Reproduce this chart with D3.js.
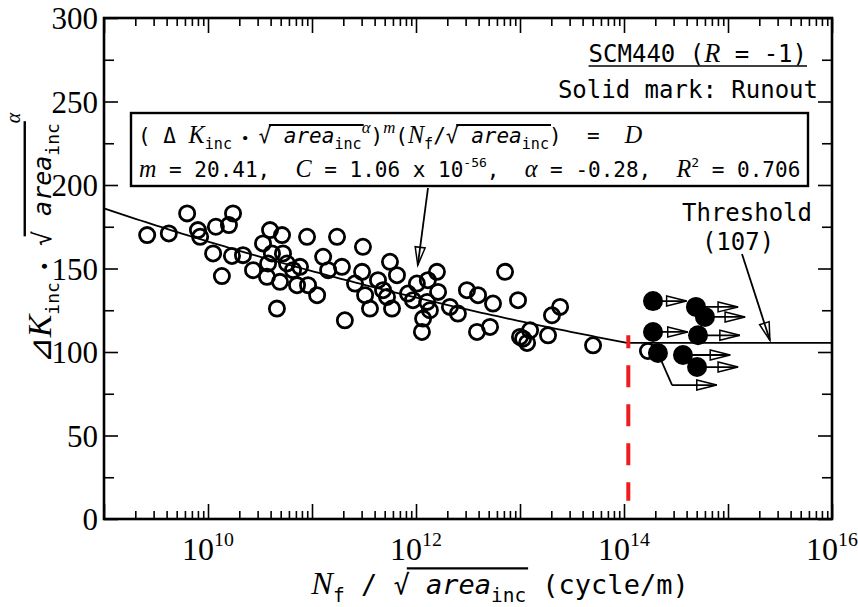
<!DOCTYPE html>
<html><head><meta charset="utf-8">
<script src="https://cdn.jsdelivr.net/npm/d3@7"></script>
<style>body{margin:0;background:#fff}</style>
</head><body><svg id="c" width="858" height="607"></svg>
<script>
// ---------- data ----------
const yTickValues = [0, 50, 100, 150, 200, 250, 300];
const xLabelExps = [10, 12, 14, 16];
const xDecadeExps = [9, 10, 11, 12, 13, 14, 15, 16];
// failures (open marks): N_f/sqrt(area) and dK*sqrt(area)^alpha
const failN = [2.6e9,4.2e9,6.3e9,8.0e9,8.4e9,1.19e10,1.74e10,1.59e10,1.12e10,1.70e10,2.17e10,1.36e10,2.71e10,3.38e10,3.95e10,5.15e10,4.12e10,5.26e10,3.69e10,4.92e10,7.18e10,6.57e10,9.16e10,1.12e11,8.96e10,1.28e11,1.43e11,1.74e11,1.94e11,4.60e10,2.07e11,3.09e11,3.03e11,5.62e11,6.56e11,4.31e11,3.24e11,5.26e11,3.61e11,5.88e11,8.38e11,1.02e12,1.30e12,1.59e12,1.63e12,1.28e12,1.36e12,1.17e12,1.14e12,2.12e12,2.53e12,3.09e12,3.95e12,5.50e12,5.15e12,3.86e12,7.18e12,9.57e12,2.03e13,2.43e13,1.0e13,1.25e13,1.17e13,1.86e13,5.04e13,1.07e13,3.78e10,7.67e10,5.75e10,2.59e11,4.82e11,9.35e11,1.70e14];
const failK = [170,171,183,173,169,175,183,176,159,157.5,158,145.5,149,165,173,170,159,159,145,142,140,149,140,134,169,157,149,169,151,126,119,163,148,154,146,143,134,133,126,126,135,141,143,148,136,130,125,120,112,127,123,137,134,129,115,112,148,131,122,127,109,113,105.4,110,104,108,153,151,153,141,137,131,100.6];
// runouts (solid marks)
const runN = [1.9e14,4.92e14,6.0e14,1.9e14,5.15e14,3.69e14,5.04e14,2.12e14];
const runK = [130.5,127,121,112,110,98.2,91,99.4];
const runTipN = [4.0e14,1.25e15,1.46e15,4.1e14,1.3e15,1.05e15,1.25e15,7.8e14];
const runBendK = [null,null,null,null,null,null,null,80.2];
const runBendN = [null,null,null,null,null,null,null,2.9e14];
// fit
const fitM = 20.41, fitN0 = 1e9, fitK0 = 186;
const thresholdK = 105.5;
const kneeN = 1.1e14;

// ---------- setup ----------
const svg = d3.select('#c');
const X0 = 104, X1 = 832, Y0 = 519, Y1 = 18;
const x = d3.scaleLog().domain([1e9, 1e16]).range([X0, X1]);
const y = d3.scaleLinear().domain([0, 300]).range([Y0, Y1]);
const MONO = "'DejaVu Sans Mono', monospace";
const SERIF = "'Liberation Serif', 'Times New Roman', serif";

// ---------- rich text helper ----------
function rich(parent, px, py, parts, opts) {
  const outer = parent.append('g');
  const g = outer.append('g');
  const base = opts.size;
  let cx = 0;
  const overs = [];
  let cur = null;
  parts.forEach(p => {
    const size = base * (p.s || 1);
    const t = g.append('text').attr('x', cx).attr('y', (p.dy || 0) * base)
      .attr('font-family', p.f || opts.font).attr('font-size', size)
      .attr('font-style', p.i ? 'italic' : 'normal')
      .attr('fill', '#000').style('white-space', 'pre').text(p.t);
    const w = t.node().getComputedTextLength();
    if (p.sq) { cur = {x0: cx + w * 0.82, x1: cx + w}; overs.push(cur); }
    else if (p.o && cur) { cur.x1 = cx + w; }
    else if (!p.o) { cur = null; }
    cx += w + (p.gap || 0) * base;
  });
  overs.forEach(o => {
    g.append('line').attr('x1', o.x0).attr('x2', o.x1 + 2)
      .attr('y1', -(opts.ov || 0.86) * base).attr('y2', -(opts.ov || 0.86) * base)
      .attr('stroke', '#000').attr('stroke-width', opts.ow || 2);
  });
  const shift = opts.anchor === 'middle' ? -cx / 2 : opts.anchor === 'end' ? -cx : 0;
  g.attr('transform', `translate(${shift},0)`);
  outer.attr('transform', `translate(${px},${py})` + (opts.rotate ? ` rotate(${opts.rotate})` : ''));
  return cx;
}

// ---------- axes ----------
const minorX = [];
for (let e = 9; e < 16; e++) for (let k = 2; k <= 9; k++) minorX.push(k * Math.pow(10, e));
const minorY = d3.range(25, 300, 50);

function strip(sel) { sel.select('.domain').remove(); sel.selectAll('line').attr('stroke', '#000').attr('stroke-width', 1.6); }

// bottom
const gb = svg.append('g').attr('transform', `translate(0,${Y0})`);
gb.append('g').call(d3.axisBottom(x).tickValues(minorX).tickSize(-8).tickFormat('')).call(strip);
gb.append('g').call(d3.axisBottom(x).tickValues(xDecadeExps.map(e => Math.pow(10, e))).tickSize(-15).tickFormat('')).call(strip);
// top
const gt = svg.append('g').attr('transform', `translate(0,${Y1})`);
gt.append('g').call(d3.axisTop(x).tickValues(minorX).tickSize(-8).tickFormat('')).call(strip);
gt.append('g').call(d3.axisTop(x).tickValues(xDecadeExps.map(e => Math.pow(10, e))).tickSize(-15).tickFormat('')).call(strip);
// left
const gl = svg.append('g').attr('transform', `translate(${X0},0)`);
gl.append('g').call(d3.axisLeft(y).tickValues(minorY).tickSize(-10).tickFormat('')).call(strip);
const glMaj = gl.append('g').call(d3.axisLeft(y).tickValues(yTickValues).tickSize(-14).tickPadding(6).tickFormat(d3.format('d'))).call(strip);
glMaj.selectAll('text').attr('font-family', SERIF).attr('font-size', 31).attr('fill', '#000').attr('dy', '0.34em');
// right
const gr = svg.append('g').attr('transform', `translate(${X1},0)`);
gr.append('g').call(d3.axisRight(y).tickValues(minorY).tickSize(-10).tickFormat('')).call(strip);
gr.append('g').call(d3.axisRight(y).tickValues(yTickValues).tickSize(-14).tickFormat('')).call(strip);

// x labels 10^n
xLabelExps.forEach(e => {
  rich(svg, x(Math.pow(10, e)), 560, [
    {t: '10', f: SERIF},
    {t: String(e), f: SERIF, s: 0.62, dy: -0.45}
  ], {size: 32, font: SERIF, anchor: 'middle'});
});

// frame
svg.append('rect').attr('x', X0).attr('y', Y1).attr('width', X1 - X0).attr('height', Y0 - Y1)
  .attr('fill', 'none').attr('stroke', '#000').attr('stroke-width', 2.6);

// ---------- fit line ----------
const fitPts = d3.range(0, 101).map(i => {
  const n = Math.pow(10, Math.log10(fitN0) + i / 100 * (Math.log10(kneeN) - Math.log10(fitN0)));
  return [n, fitK0 * Math.pow(n / fitN0, -1 / fitM)];
});
const line = d3.line().x(d => x(d[0])).y(d => y(d[1]));
svg.append('path').attr('d', line(fitPts)).attr('fill', 'none').attr('stroke', '#000').attr('stroke-width', 1.8);
svg.append('path').attr('d', line([[fitPts[100][0], thresholdK], [1e16, thresholdK]]))
  .attr('fill', 'none').attr('stroke', '#000').attr('stroke-width', 1.8);
// red dashed
svg.append('line').attr('x1', x(kneeN)).attr('x2', x(kneeN)).attr('y1', y(110)).attr('y2', y(11))
  .attr('stroke', '#ee1c1c').attr('stroke-width', 4).attr('stroke-dasharray', '22,17').attr('stroke-dashoffset', 9);

// ---------- arrows ----------
function arrow(x1, y1, x2, y2, len, hw) {
  const a = Math.atan2(y2 - y1, x2 - x1);
  const bx = x2 - len * Math.cos(a), by = y2 - len * Math.sin(a);
  const px = -Math.sin(a) * hw, py = Math.cos(a) * hw;
  svg.append('line').attr('x1', x1).attr('y1', y1).attr('x2', x2).attr('y2', y2)
    .attr('stroke', '#000').attr('stroke-width', 1.8);
  svg.append('path').attr('d', `M${x2},${y2}L${bx + px},${by + py}L${bx - px},${by - py}Z`)
    .attr('fill', 'none').attr('stroke', '#000').attr('stroke-width', 1.5);
}

// ---------- points ----------
svg.append('g').selectAll('circle').data(failN.map((n, i) => [n, failK[i]])).join('circle')
  .attr('cx', d => x(d[0])).attr('cy', d => y(d[1])).attr('r', 7.6)
  .attr('fill', 'none').attr('stroke', '#000').attr('stroke-width', 2.8);

runN.forEach((n, i) => {
  const cx = x(n), cy = y(runK[i]);
  if (runBendN[i]) {
    svg.append('path').attr('d', `M${cx},${cy}L${x(runBendN[i])},${y(runBendK[i])}`)
      .attr('stroke', '#000').attr('stroke-width', 1.8).attr('fill', 'none');
    arrow(x(runBendN[i]), y(runBendK[i]), x(runTipN[i]), y(runBendK[i]), 20, 5);
  } else {
    arrow(cx, cy, x(runTipN[i]), cy, 20, 5);
  }
});
svg.append('g').selectAll('circle').data(runN.map((n, i) => [n, runK[i]])).join('circle')
  .attr('cx', d => x(d[0])).attr('cy', d => y(d[1])).attr('r', 10).attr('fill', '#000');

// annotation arrows
arrow(428, 188, x(1.04e12), y(152), 18, 5);
arrow(742, 254, x(2.53e15), y(thresholdK + 1.5), 18, 5);

// ---------- texts ----------
const tw = rich(svg, 807, 62, [
  {t: 'SCM440 (', f: MONO},
  {t: 'R', f: SERIF, i: true, s: 1.1},
  {t: ' = -1)', f: MONO}
], {size: 24, font: MONO, anchor: 'end'});
svg.append('line').attr('x1', 807 - tw).attr('x2', 807).attr('y1', 66).attr('y2', 66)
  .attr('stroke', '#000').attr('stroke-width', 1.5);
rich(svg, 818, 98, [{t: 'Solid mark: Runout', f: MONO}], {size: 24, font: MONO, anchor: 'end'});

// threshold
rich(svg, 747, 221, [{t: 'Threshold', f: MONO}], {size: 24, font: MONO, anchor: 'middle'});
rich(svg, 738, 250, [{t: '(' + '107' + ')', f: MONO}], {size: 24, font: MONO, anchor: 'middle'});

// equation box
svg.append('rect').attr('x', 131).attr('y', 113).attr('width', 677).attr('height', 73)
  .attr('fill', '#fff').attr('stroke', '#000').attr('stroke-width', 2.4);
rich(svg, 138, 143, [
  {t: '(', f: MONO},
  {t: ' Δ ', f: MONO},
  {t: 'K', f: SERIF, i: true, s: 1.15},
  {t: 'inc', f: MONO, s: 0.72, dy: 0.3},
  {t: ' • ', f: MONO, s: 0.7},
  {t: '√', f: MONO, sq: true},
  {t: ' area', f: MONO, i: true, o: true},
  {t: 'inc', f: MONO, s: 0.72, dy: 0.3, o: true},
  {t: 'α', f: SERIF, i: true, s: 0.8, dy: -0.5},
  {t: ')', f: MONO},
  {t: 'm', f: SERIF, i: true, s: 0.8, dy: -0.5},
  {t: '(', f: MONO},
  {t: 'N', f: SERIF, i: true, s: 1.15},
  {t: 'f', f: MONO, s: 0.72, dy: 0.3},
  {t: '/', f: MONO},
  {t: '√', f: MONO, sq: true},
  {t: ' area', f: MONO, i: true, o: true},
  {t: 'inc', f: MONO, s: 0.72, dy: 0.3, o: true},
  {t: ')  =  ', f: MONO},
  {t: 'D', f: SERIF, i: true, s: 1.15}
], {size: 21, font: MONO});
rich(svg, 139, 177, [
  {t: 'm', f: SERIF, i: true, s: 1.15},
  {t: ' = 20.41,  ', f: MONO},
  {t: 'C', f: SERIF, i: true, s: 1.15},
  {t: ' = 1.06 x 10', f: MONO},
  {t: '-56', f: MONO, s: 0.62, dy: -0.5},
  {t: ',  ', f: MONO},
  {t: 'α', f: SERIF, i: true, s: 1.15},
  {t: ' = -0.28,  ', f: MONO},
  {t: 'R', f: SERIF, i: true, s: 1.15},
  {t: '2', f: MONO, s: 0.62, dy: -0.5},
  {t: ' = 0.706', f: MONO}
], {size: 21, font: MONO});

// y axis label
rich(svg, 51, 238, [
  {t: '⊿', f: "'DejaVu Sans', sans-serif", s: 1.25},
  {t: 'K', f: SERIF, i: true, s: 1.35},
  {t: 'inc', f: MONO, s: 0.72, dy: 0.3},
  {t: ' •', f: MONO, s: 0.7},
  {t: ' √', f: MONO, sq: true},
  {t: ' area', f: MONO, i: true, o: true},
  {t: 'inc', f: MONO, s: 0.72, dy: 0.3, o: true},
  {t: 'α', f: SERIF, i: true, s: 0.8, dy: -1.25}
], {size: 25, font: MONO, anchor: 'middle', rotate: -90, ov: 1.05, ow: 2.4});

// x axis label
rich(svg, 500, 594, [
  {t: 'N', f: SERIF, i: true, s: 1.2},
  {t: 'f', f: MONO, s: 0.72, dy: 0.3},
  {t: ' / ', f: MONO},
  {t: '√', f: MONO, sq: true},
  {t: ' area', f: MONO, i: true, o: true},
  {t: 'inc', f: MONO, s: 0.72, dy: 0.3, o: true},
  {t: ' (cycle/m)', f: MONO}
], {size: 27, font: MONO, anchor: 'middle', ov: 0.95, ow: 2.2});
</script>
</body></html>
